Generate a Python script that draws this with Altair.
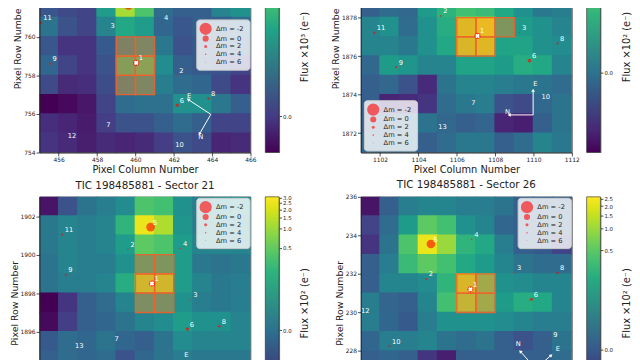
import altair as alt
import pandas as pd

FONT = "DejaVu Sans"
INK = "#222222"

# ---------------- panel A (top left) ----------------
A_TITLE = "TIC 198485881 - Sector 14"
A_COLS = list(range(455, 466))
A_ROWS = [761, 760, 759, 758, 757, 756, 755, 754]
A_FLUX = [
    [0.0076, 0.0032, 0.0017, 0.079, 0.56, 0.23, 0.018, 0.011, 0.011, 0.040, 0.057],
    [0.023, 0.0057, 0.0017, 0.040, 0.109, 0.079, 0.015, 0.0076, 0.011, 0.011, 0.018],
    [0.0076, -0.0014, -0.0014, 0.0087, 0.040, 0.050, 0.027, 0.0057, 0.0087, 0.011, 0.011],
    [0.015, 0.0017, -0.0014, 0.0057, 0.150, 0.180, 0.050, 0.011, 0.0087, 0.0057, 0.0017],
    [0.0032, -0.0036, -0.0028, 0.0040, 0.040, 0.050, 0.032, 0.018, 0.015, 0.0032, -0.0014],
    [-0.017, -0.014, -0.0092, 0.0017, 0.018, 0.0215, 0.0215, 0.057, 0.057, 0.027, 0.011],
    [-0.0028, -0.0052, -0.0081, 0.0005, 0.0057, 0.0057, 0.011, 0.018, 0.011, 0.0017, 0.0017],
    [-0.0014, -0.0036, -0.0071, -0.0036, -0.0052, -0.0036, 0.0005, 0.0057, 0.0032, -0.0052, -0.0036],
]
A_XDOM = [455, 466]
A_YDOM = [754, 765]
A_XTICKS = [456, 458, 460, 462, 464, 466]
A_YTICKS = [754, 756, 758, 760, 762, 764]
A_CDOM = [-0.017, 1.2]
A_CCONST = 0.01
A_CTICKS = [0.0, 0.5, 1.0]
A_CUNIT = "Flux ×10³ (e⁻)"
A_APER_COL = [459, 460, 459, 460, 459, 460]
A_APER_ROW = [757, 757, 758, 758, 759, 759]
A_STAR_ID = ["1", "2", "3", "4", "5", "6", "7", "8", "9", "10", "11", "12"]
A_STAR_X = [460.04, 462.16, 458.57, 461.36, 459.64, 462.18, 458.35, 463.81, 455.55, 461.95, 455.07, 456.34]
A_STAR_Y = [758.65, 758.01, 760.33, 760.77, 761.63, 756.45, 755.21, 756.80, 758.60, 754.18, 760.73, 754.64]
A_STAR_DM = [0, 5, 5, 4, -1, 1.6, 6, 2.6, 3, 6, 2.4, 6]
A_CMP_DIR = ["N", "E"]
A_CMP_X0 = [463.93, 463.93]
A_CMP_Y0 = [755.98, 755.98]
A_CMP_X1 = [463.34, 462.75]
A_CMP_Y1 = [754.96, 756.75]
A_CMP_LX = [463.40, 462.80]
A_CMP_LY = [754.80, 756.92]

# ---------------- panel B (top right) ----------------
B_TITLE = "TIC 198485881 - Sector 20"
B_COLS = list(range(1101, 1112))
B_ROWS = [1878, 1877, 1876, 1875, 1874, 1873, 1872, 1871]
B_FLUX = [
    [-0.023, -0.0068, -0.013, 0.078, 0.196, 0.297, 0.252, 0.126, 0.044, 0.0054, 0.011],
    [0.021, 0.044, -0.0068, 0.044, 0.151, 1.64, 2.06, 0.126, 0.078, 0.044, 0.021],
    [0.021, 0.021, 0.0054, 0.044, 0.126, 1.41, 1.64, 0.105, 0.105, 0.044, 0.034],
    [-0.013, 0.078, 0.056, 0.021, 0.021, 0.105, 0.105, 0.078, 0.151, 0.126, 0.021],
    [-0.023, -0.013, -0.047, -0.173, 0.0005, 0.021, 0.021, 0.011, 0.0054, 0.0005, -0.0068],
    [-0.023, -0.205, -0.173, -0.132, -0.0068, 0.0054, 0.011, -0.047, -0.067, -0.013, 0.0005],
    [-0.023, -0.023, -0.013, 0.0005, -0.013, -0.023, -0.016, -0.205, -0.243, -0.023, 0.0005],
    [-0.013, -0.0068, -0.0068, -0.023, -0.0068, 0.0054, 0.0054, -0.023, -0.0068, 0.021, 0.0054],
]
B_XDOM = [1101, 1112]
B_YDOM = [1871, 1882]
B_XTICKS = [1102, 1104, 1106, 1108, 1110, 1112]
B_YTICKS = [1872, 1874, 1876, 1878, 1880, 1882]
B_CDOM = [-0.463, 3.0]
B_CCONST = 0.03
B_CTICKS = [0.0, 0.5, 1.0, 1.5, 2.0, 2.5, 3.0]
B_CUNIT = "Flux ×10² (e⁻)"
B_APER_COL = [1106, 1107, 1106, 1107, 1108]
B_APER_ROW = [1876, 1876, 1877, 1877, 1877]
B_STAR_ID = ["1", "2", "3", "5", "6", "7", "8", "9", "10", "11", "13"]
B_STAR_X = [1107.08, 1105.16, 1109.27, 1106.40, 1109.79, 1106.62, 1111.25, 1102.84, 1110.29, 1101.70, 1104.91]
B_STAR_Y = [1877.05, 1878.09, 1877.25, 1879.60, 1875.77, 1873.32, 1876.66, 1875.43, 1873.63, 1877.22, 1872.07]
B_STAR_DM = [0, 3.5, 4.5, -1, 1.4, 6, 3, 3, 6, 2.6, 6]
B_CMP_DIR = ["N", "E"]
B_CMP_X0 = [1109.98, 1109.98]
B_CMP_Y0 = [1872.95, 1872.95]
B_CMP_X1 = [1108.73, 1109.98]
B_CMP_Y1 = [1872.95, 1874.23]
B_CMP_LX = [1108.65, 1110.10]
B_CMP_LY = [1873.12, 1874.57]

# ---------------- panel C (bottom left) ----------------
C_TITLE = "TIC 198485881 - Sector 21"
C_COLS = list(range(1097, 1108))
C_ROWS = [1902, 1901, 1900, 1899, 1898, 1897, 1896, 1895, 1894]
C_FLUX = [
    [-0.288, -0.043, 0.0023, 0.0134, 0.038, 0.367, 0.313, 0.048, 0.0134, 0.038, 0.048],
    [0.0075, 0.024, 0.0134, 0.024, 0.207, 2.49, 1.26, 0.061, 0.0134, 0.024, 0.024],
    [0.0075, 0.024, 0.0134, 0.024, 0.083, 0.466, 0.367, 0.083, 0.024, 0.024, 0.024],
    [0.0023, 0.024, 0.0134, 0.0134, 0.048, 0.134, 0.134, 0.083, 0.0075, 0.0023, 0.0075],
    [0.0023, 0.0134, 0.0134, 0.024, 0.160, 1.26, 1.26, 0.083, 0.024, 0.0075, 0.0134],
    [-0.43, -0.122, -0.020, -0.0047, 0.024, 0.083, 0.083, 0.048, 0.0134, 0.0075, 0.0134],
    [-0.367, -0.092, -0.020, -0.010, 0.0023, 0.024, 0.038, 0.083, 0.048, 0.048, 0.024],
    [-0.028, -0.0047, -0.010, 0.0023, -0.010, -0.020, 0.0023, 0.038, 0.024, 0.024, 0.024],
    [-0.020, -0.0047, -0.010, -0.0047, -0.043, -0.010, 0.0023, 0.0134, 0.0075, 0.0075, 0.0075],
]
C_XDOM = [1097, 1108]
C_YDOM = [1892, 1903]
C_XTICKS = [1098, 1100, 1102, 1104, 1106, 1108]
C_YTICKS = [1892, 1894, 1896, 1898, 1900, 1902]
C_CDOM = [-0.43, 3.1]
C_CCONST = 0.03
C_CTICKS = [0.0, 0.5, 1.0, 1.5, 2.0, 2.5, 3.0]
C_CUNIT = "Flux ×10² (e⁻)"
C_APER_COL = [1102, 1103, 1102, 1103, 1102, 1103]
C_APER_ROW = [1897, 1897, 1898, 1898, 1899, 1899]
C_STAR_ID = ["1", "2", "3", "4", "5", "6", "7", "8", "9", "11", "13"]
C_STAR_X = [1102.86, 1101.61, 1104.89, 1104.35, 1102.79, 1104.71, 1100.78, 1106.37, 1098.37, 1098.18, 1098.72]
C_STAR_Y = [1898.50, 1900.28, 1897.66, 1900.32, 1901.43, 1896.14, 1895.37, 1896.28, 1898.95, 1901.04, 1895.03]
C_STAR_DM = [0, 4.5, 5, 4.5, -1, 1.6, 6, 2.5, 3.2, 2.8, 6]
C_CMP_DIR = ["N", "E"]
C_CMP_X0 = [1104.53, 1104.53]
C_CMP_Y0 = [1893.16, 1893.16]
C_CMP_X1 = [1103.28, 1104.53]
C_CMP_Y1 = [1893.16, 1894.44]
C_CMP_LX = [1103.20, 1104.65]
C_CMP_LY = [1893.33, 1894.78]

# ---------------- panel D (bottom right) ----------------
D_TITLE = "TIC 198485881 - Sector 26"
D_COLS = list(range(1216, 1227))
D_ROWS = [235, 234, 233, 232, 231, 230, 229, 228, 227]
D_FLUX = [
    [-0.087, 0.0035, 0.037, 0.0505, 0.0505, 0.037, 0.037, 0.0229, 0.0035, 0.0035, 0.0035],
    [-0.017, 0.0144, 0.120, 0.506, 0.358, 0.0795, 0.0505, 0.0096, 0.0035, 0.0035, 0.0035],
    [-0.033, 0.0229, 0.41, 2.19, 0.99, 0.252, 0.175, 0.037, 0.0035, 0.0, -0.017],
    [0.0035, 0.037, 0.31, 0.506, 0.358, 0.175, 0.120, 0.0505, 0.0229, 0.0144, 0.0144],
    [0.0035, 0.0505, 0.0505, 0.067, 0.252, 1.38, 0.506, 0.0795, 0.067, 0.0505, 0.0505],
    [0.037, 0.0074, 0.0035, 0.0505, 0.358, 0.99, 0.506, 0.120, 0.203, 0.175, 0.0505],
    [0.037, 0.0096, 0.0, 0.037, 0.0795, 0.0795, 0.0795, 0.067, 0.0505, 0.037, 0.037],
    [0.0096, 0.037, 0.037, 0.0505, 0.0229, 0.0144, 0.0229, 0.0035, -0.0054, 0.0035, 0.0229],
    [0.0035, 0.0096, 0.0035, -0.033, -0.067, 0.0035, 0.0035, 0.0035, 0.0035, 0.0035, 0.0144],
]
D_XDOM = [1216, 1227]
D_YDOM = [225, 236]
D_XTICKS = [1216, 1218, 1220, 1222, 1224, 1226]
D_YTICKS = [226, 228, 230, 232, 234, 236]
D_CDOM = [-0.13, 2.67]
D_CCONST = 0.025
D_CTICKS = [0.0, 0.5, 1.0, 1.5, 2.0, 2.5]
D_CUNIT = "Flux ×10² (e⁻)"
D_APER_COL = [1221, 1222, 1221, 1222]
D_APER_ROW = [230, 230, 231, 231]
D_STAR_ID = ["1", "2", "3", "4", "5", "6", "8", "9", "10", "12"]
D_STAR_X = [1221.71, 1219.41, 1224.01, 1221.78, 1219.65, 1224.89, 1226.25, 1225.90, 1217.49, 1215.87]
D_STAR_Y = [231.20, 231.74, 232.06, 233.80, 233.55, 230.68, 232.05, 228.61, 228.26, 229.86]
D_STAR_DM = [0, 3.5, 5, 4, -1, 1.8, 2.6, 6, 3, 6]
D_CMP_DIR = ["N", "E"]
D_CMP_X0 = [1225.12, 1225.12]
D_CMP_Y0 = [227.08, 227.08]
D_CMP_X1 = [1224.31, 1225.92]
D_CMP_Y1 = [227.98, 227.78]
D_CMP_LX = [1224.21, 1226.27]
D_CMP_LY = [228.37, 228.12]

LEGEND_DM_REL = [4, 1, 0.25, 0.0625, 0.015625]   # 2**-dm for dm = -2, 0, 2, 4, 6

W, H = 214, 215
BLEED = 0.04   # cells overlap their neighbours a hair so no anti-alias seams show


def panel(title, cols, rows, flux, xdom, ydom, xticks, yticks, cdom, cconst, cticks, cunit,
          aper_c, aper_r, sid, sx, sy, sdm, cdir, cx0, cy0, cx1, cy1, clx, cly, leg_x, leg_y):
    cells = pd.DataFrame([{"x": c, "x2": c + 1, "y": r, "y2": r + 1, "v": v}
                          for r, vals in zip(rows, flux) for c, v in zip(cols, vals)])
    aper = pd.DataFrame({"x": aper_c, "y": aper_r})
    aper["x2"] = aper["x"] + 1
    aper["y2"] = aper["y"] + 1
    stars = pd.DataFrame({"id": sid, "x": sx, "y": sy, "dm": sdm})
    target = stars[stars["id"] == "1"]
    comp = pd.DataFrame({"dir": cdir, "x0": cx0, "y0": cy0, "x1": cx1, "y1": cy1,
                         "lx": clx, "ly": cly})

    xs = alt.Scale(domain=xdom, nice=False, zero=False)
    ys = alt.Scale(domain=ydom, nice=False, zero=False)
    xax = alt.Axis(values=xticks, title="Pixel Column Number", format="d", labelFontSize=6,
                   tickSize=3.5, labelPadding=1, titleFontSize=10, titlePadding=1.5,
                   zindex=1, labelFlush=False, labelOverlap=False, grid=False)
    yax = alt.Axis(values=yticks, title="Pixel Row Number", format="d", labelFontSize=6,
                   tickSize=3.5, labelPadding=1, titleFontSize=9.5, titlePadding=1,
                   zindex=1, labelFlush=False, labelOverlap=False, grid=False)

    def X(f):
        return alt.X(f"{f}:Q", scale=xs, axis=xax)

    def Y(f):
        return alt.Y(f"{f}:Q", scale=ys, axis=yax)

    heat = alt.Chart(cells).transform_calculate(
        xa=f"datum.x - {BLEED}", xb=f"datum.x2 + {BLEED}",
        ya=f"datum.y - {BLEED}", yb=f"datum.y2 + {BLEED}",
    ).mark_rect(clip=True).encode(
        x=X("xa"), x2="xb", y=Y("ya"), y2="yb",
        color=alt.Color("v:Q", scale=alt.Scale(type="symlog", constant=cconst, domain=cdom,
                                               scheme="viridis", nice=False, zero=False),
                        legend=alt.Legend(
            type="gradient", orient="none", legendX=229, legendY=0, direction="vertical",
            gradientLength=H, gradientThickness=14, title=None, labelOpacity=0,
            labelFontSize=1, gradientStrokeColor=INK, gradientStrokeWidth=0.6, padding=0)),
    )
    ap = alt.Chart(aper).mark_rect(fill="#ff7f2a", fillOpacity=0.42, stroke="#f0602a",
                                   strokeWidth=1.4, strokeOpacity=0.9).encode(
        x=X("x"), x2="x2", y=Y("y"), y2="y2")
    st = alt.Chart(stars).transform_calculate(rel="pow(2, -datum.dm)").mark_circle(
        color="red", opacity=0.6, clip=True).encode(
        x=X("x"), y=Y("y"),
        size=alt.Size("rel:Q", scale=alt.Scale(domain=[0, 4], range=[0, 154]), legend=alt.Legend(
            orient="none", legendX=leg_x, legendY=leg_y, title=None, values=LEGEND_DM_REL,
            labelExpr="'Δm =  ' + toString(round(-log(datum.value) / LN2))",
            symbolType="circle", symbolFillColor="red", symbolOpacity=0.6,
            symbolStrokeWidth=0, fillColor="rgba(255,255,255,0.8)", strokeColor="#cccccc",
            cornerRadius=3, padding=3, labelFontSize=6.8, labelColor=INK, labelOffset=4,
            rowPadding=-2.5)))
    cross = alt.Chart(target).mark_point(shape="cross", angle=45, filled=True, color="white",
                                         opacity=1, size=22).encode(x=X("x"), y=Y("y"))
    lab = alt.Chart(stars).mark_text(color="white", fontSize=6.8, align="left",
                                     baseline="middle", dx=2.5, dy=-4.5, clip=True).encode(
        x=X("x"), y=Y("y"), text="id:N")
    rules = alt.Chart(comp).mark_rule(color="white", strokeWidth=1).encode(
        x=X("x0"), y=Y("y0"), x2="x1", y2="y1")
    heads = alt.Chart(comp).transform_calculate(
        ang="(atan2(datum.x1 - datum.x0, datum.y1 - datum.y0) * 180 / PI + 360) % 360"
    ).mark_point(shape="triangle-up", filled=True, color="white", opacity=1, size=14).encode(
        x=X("x1"), y=Y("y1"), angle=alt.Angle("ang:Q", scale=None))
    clab = alt.Chart(comp).mark_text(color="white", fontSize=6.8).encode(
        x=X("lx"), y=Y("ly"), text="dir:N")

    inner = alt.layer(heat, ap, st, cross, lab, rules, heads, clab)

    cb = alt.Chart(pd.DataFrame({"v": cdom})).mark_point(opacity=0).encode(
        y=alt.Y("v:Q", scale=alt.Scale(type="symlog", constant=cconst, domain=cdom,
                                       nice=False, zero=False),
                axis=alt.Axis(orient="right", offset=29, values=cticks, format=".1f",
                              title=cunit, titleAngle=270, titleBaseline="top",
                              titleFontSize=10, titlePadding=9, labelFontSize=5.5,
                              tickSize=2.5, labelPadding=1, labelOverlap=False,
                              labelFlush=False, domainWidth=0.6, grid=False)))
    return alt.layer(inner, cb).resolve_scale(y="independent").properties(
        width=W, height=H,
        title=alt.TitleParams(title, fontSize=10.5, offset=3, fontWeight="normal",
                              font=FONT, color=INK))


pa = panel(A_TITLE, A_COLS, A_ROWS, A_FLUX, A_XDOM, A_YDOM, A_XTICKS, A_YTICKS, A_CDOM,
           A_CCONST, A_CTICKS, A_CUNIT, A_APER_COL, A_APER_ROW, A_STAR_ID, A_STAR_X,
           A_STAR_Y, A_STAR_DM, A_CMP_DIR, A_CMP_X0, A_CMP_Y0, A_CMP_X1, A_CMP_Y1,
           A_CMP_LX, A_CMP_LY, 159, 80)
pb = panel(B_TITLE, B_COLS, B_ROWS, B_FLUX, B_XDOM, B_YDOM, B_XTICKS, B_YTICKS, B_CDOM,
           B_CCONST, B_CTICKS, B_CUNIT, B_APER_COL, B_APER_ROW, B_STAR_ID, B_STAR_X,
           B_STAR_Y, B_STAR_DM, B_CMP_DIR, B_CMP_X0, B_CMP_Y0, B_CMP_X1, B_CMP_Y1,
           B_CMP_LX, B_CMP_LY, 3, 162)
pc = panel(C_TITLE, C_COLS, C_ROWS, C_FLUX, C_XDOM, C_YDOM, C_XTICKS, C_YTICKS, C_CDOM,
           C_CCONST, C_CTICKS, C_CUNIT, C_APER_COL, C_APER_ROW, C_STAR_ID, C_STAR_X,
           C_STAR_Y, C_STAR_DM, C_CMP_DIR, C_CMP_X0, C_CMP_Y0, C_CMP_X1, C_CMP_Y1,
           C_CMP_LX, C_CMP_LY, 159, 1)
pd_ = panel(D_TITLE, D_COLS, D_ROWS, D_FLUX, D_XDOM, D_YDOM, D_XTICKS, D_YTICKS, D_CDOM,
            D_CCONST, D_CTICKS, D_CUNIT, D_APER_COL, D_APER_ROW, D_STAR_ID, D_STAR_X,
            D_STAR_Y, D_STAR_DM, D_CMP_DIR, D_CMP_X0, D_CMP_Y0, D_CMP_X1, D_CMP_Y1,
            D_CMP_LX, D_CMP_LY, 159, 1)

chart = alt.concat(pa, pb, pc, pd_, columns=2, spacing={"row": 45, "column": 112},
                   bounds="flush")
chart = chart.resolve_scale(x="independent", y="independent", color="independent",
                            size="independent")
chart = chart.properties(padding={"left": 0, "top": -88, "right": 0, "bottom": -71})
chart = chart.configure(font=FONT).configure_view(stroke=INK, strokeWidth=0.8).configure_axis(
    grid=False, domainColor=INK, tickColor=INK, labelColor=INK, titleColor=INK,
    titleFontWeight="normal", domainWidth=0.8, tickWidth=0.8)

chart.save("out.html", embed_options={"renderer": "svg", "actions": False})
